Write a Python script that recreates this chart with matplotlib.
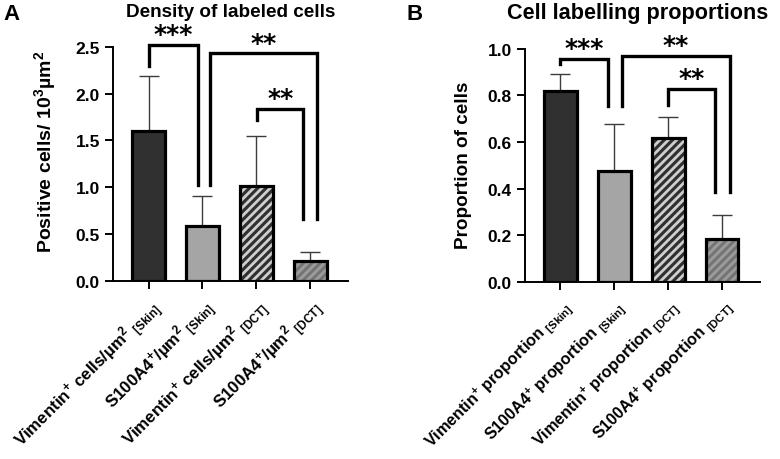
import numpy as np
import matplotlib as mpl
import matplotlib.pyplot as plt

############################
#% DATA
############################
groups_a = ["Vimentin$^{+}$ cells/µm$^{2}$ ${}_{\\mathrm{[Skin]}}$",
            "S100A4$^{+}$/µm$^{2}$ ${}_{\\mathrm{[Skin]}}$",
            "Vimentin$^{+}$ cells/µm$^{2}$ ${}_{\\mathrm{[DCT]}}$",
            "S100A4$^{+}$/µm$^{2}$ ${}_{\\mathrm{[DCT]}}$"]
density_mean = [1.60, 0.59, 1.01, 0.21]
density_sd = [0.59, 0.32, 0.54, 0.10]

groups_b = ["Vimentin$^{+}$ proportion ${}_{\\mathrm{[Skin]}}$",
            "S100A4$^{+}$ proportion ${}_{\\mathrm{[Skin]}}$",
            "Vimentin$^{+}$ proportion ${}_{\\mathrm{[DCT]}}$",
            "S100A4$^{+}$ proportion ${}_{\\mathrm{[DCT]}}$"]
prop_mean = [0.82, 0.475, 0.615, 0.185]
prop_sd = [0.07, 0.20, 0.09, 0.10]

# significance brackets: (x_left, x_right, top, left_bottom, right_bottom, stars)
brackets_a = [(0.00, 0.91, 2.52, 2.30, 1.03, "***"),
              (1.15, 3.13, 2.43, 1.03, 0.66, "**"),
              (2.02, 2.87, 1.84, 1.72, 0.66, "**")]
brackets_b = [(0.00, 0.88, 0.957, 0.936, 0.755, "***"),
              (1.14, 3.15, 0.970, 0.755, 0.386, "**"),
              (2.00, 2.87, 0.828, 0.760, 0.386, "**")]

############################
#% STYLE
############################
plt.rcParams['font.family'] = ['Liberation Sans', 'DejaVu Sans']
plt.rcParams['font.weight'] = 'bold'
plt.rcParams['mathtext.fontset'] = 'custom'
plt.rcParams['mathtext.rm'] = 'Liberation Sans'
plt.rcParams['mathtext.bf'] = 'Liberation Sans:bold'
plt.rcParams['mathtext.default'] = 'regular'
plt.rcParams['hatch.linewidth'] = 2.0

faces = ['#303030', '#a5a5a5', '#303030', '#9a9a9a']
hatch_cols = [None, None, '#cfcfcf', '#737373']
EDGE_LW = 2.3
TICK_SIZE = 12.5


def draw_panel(ax, means, sds, labels, brackets, ylim, yticks, ylabel,
               ylabel_size, ylabel_xy, title, title_size, title_x, xlab_size):
    x = np.arange(len(means))
    width = 0.61
    for i in range(len(means)):
        if hatch_cols[i] is None:
            ax.bar(x[i], means[i], width, color=faces[i], edgecolor='black',
                   linewidth=EDGE_LW, zorder=3)
        else:
            ax.bar(x[i], means[i], width, color=faces[i],
                   edgecolor=hatch_cols[i], hatch='////', linewidth=0, zorder=3)
            ax.bar(x[i], means[i], width, color='none', edgecolor='black',
                   linewidth=EDGE_LW, zorder=4)
    ax.errorbar(x, means, yerr=[np.zeros(len(sds)), sds], fmt='none',
                ecolor='#3c3c3c', elinewidth=1.0, capsize=7, capthick=1.0,
                zorder=2)

    for xl, xr, top, lb, rb, stars in brackets:
        ax.plot([xl, xl, xr, xr], [lb, top, top, rb], color='black', lw=2.4,
                solid_joinstyle='miter', clip_on=False, zorder=5)
        ax.annotate(stars, ((xl + xr) / 2, top), xytext=(0, 2.5),
                    textcoords='offset points', ha='center', va='baseline',
                    fontsize=18, fontweight='bold', family='DejaVu Sans',
                    annotation_clip=False)

    ax.set_xlim(-0.66, 3.7)
    ax.set_ylim(*ylim)
    ax.set_yticks(yticks)
    ax.set_yticklabels([f"{t:.1f}" for t in yticks])
    ax.set_xticks(x)
    ax.set_xticklabels(labels, rotation=45, ha='right', rotation_mode='anchor',
                       fontsize=xlab_size, fontweight='bold')
    for s in ['top', 'right']:
        ax.spines[s].set_visible(False)
    for s in ['left', 'bottom']:
        ax.spines[s].set_linewidth(1.4)
    ax.tick_params(axis='both', length=6, width=1.4, labelsize=TICK_SIZE)
    ax.tick_params(axis='x', pad=4, labelsize=xlab_size)
    ax.set_ylabel(ylabel, fontsize=ylabel_size, fontweight='bold')
    ax.yaxis.set_label_coords(*ylabel_xy)
    ax.set_title(title, fontsize=title_size, fontweight='bold', pad=22,
                 x=title_x)


fig = plt.figure(figsize=(7.8, 4.6), dpi=100)
ax_a = fig.add_axes([0.1449, 0.387, 0.301, 0.509])
ax_b = fig.add_axes([0.673, 0.385, 0.301, 0.507])

draw_panel(ax_a, density_mean, density_sd, groups_a, brackets_a, (0, 2.5),
           [0.0, 0.5, 1.0, 1.5, 2.0, 2.5],
           "Positive cells/ 10$^{3}$µm$^{2}$", 14, (-0.234, 0.556),
           "Density of labeled cells", 13.6, 0.5, 12.2)
draw_panel(ax_b, prop_mean, prop_sd, groups_b, brackets_b, (0, 1.0),
           [0.0, 0.2, 0.4, 0.6, 0.8, 1.0],
           "Proportion of cells", 13.6, (-0.226, 0.504),
           "Cell labelling proportions", 15.6, 0.48, 11.6)

fig.text(0.004, 0.992, "A", fontsize=16, fontweight='bold', va='top')
fig.text(0.521, 0.992, "B", fontsize=16, fontweight='bold', va='top')

fig.savefig("out.png", dpi=100)
